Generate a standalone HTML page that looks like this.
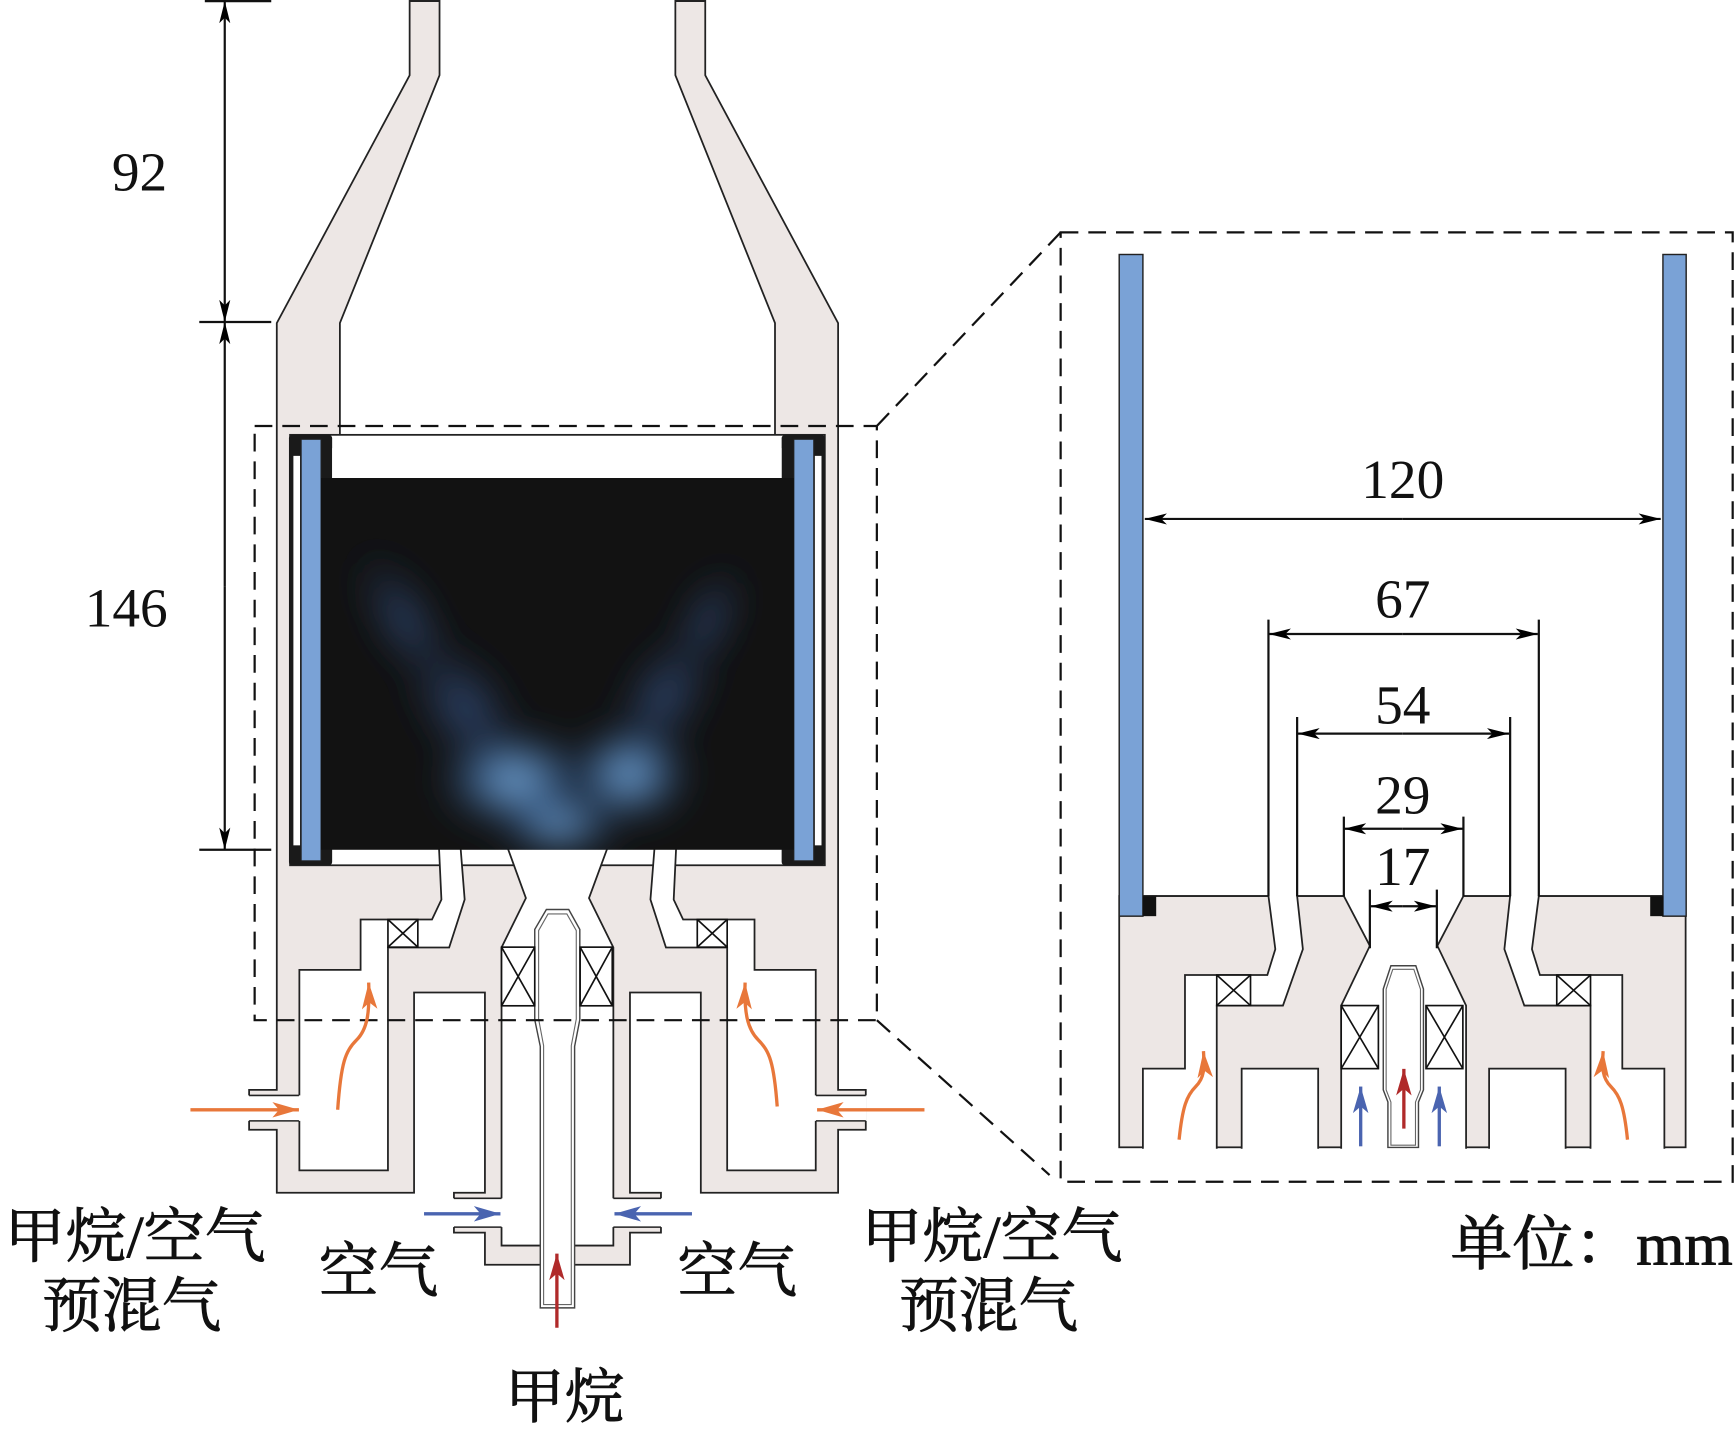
<!DOCTYPE html>
<html><head><meta charset="utf-8"><style>html,body{margin:0;padding:0;background:#fff}svg{display:block}</style></head><body>
<svg width="1736" height="1434" viewBox="0 0 1568 1296" preserveAspectRatio="none" xmlns="http://www.w3.org/2000/svg">
<defs>
<marker id="ak" viewBox="0 0 20 10" refX="20" refY="5" markerWidth="20" markerHeight="10" markerUnits="userSpaceOnUse" orient="auto"><path d="M0,0 L20,5 L0,10 L5,5 z" fill="#000"/></marker>
<marker id="ao" viewBox="0 0 24 14" refX="24" refY="7" markerWidth="24" markerHeight="14" markerUnits="userSpaceOnUse" orient="auto"><path d="M0,0 L24,7 L0,14 L6,7 z" fill="#e8773a"/></marker>
<marker id="ab" viewBox="0 0 24 14" refX="24" refY="7" markerWidth="24" markerHeight="14" markerUnits="userSpaceOnUse" orient="auto"><path d="M0,0 L24,7 L0,14 L6,7 z" fill="#4a64b0"/></marker>
<marker id="ar" viewBox="0 0 24 14" refX="24" refY="7" markerWidth="24" markerHeight="14" markerUnits="userSpaceOnUse" orient="auto"><path d="M0,0 L24,7 L0,14 L6,7 z" fill="#b02a2a"/></marker>
<radialGradient id="g1" cx="0.5" cy="0.5" r="0.5"><stop offset="0" stop-color="#8cc0ee" stop-opacity="1"/><stop offset="0.5" stop-color="#4a80c0" stop-opacity="0.6"/><stop offset="1" stop-color="#14203a" stop-opacity="0"/></radialGradient>
<radialGradient id="g2" cx="0.5" cy="0.5" r="0.5"><stop offset="0" stop-color="#4068a8" stop-opacity="0.75"/><stop offset="1" stop-color="#151a2a" stop-opacity="0"/></radialGradient>
<filter id="bl" x="-50%" y="-50%" width="200%" height="200%"><feGaussianBlur stdDeviation="16"/></filter>
<clipPath id="fc"><rect x="290" y="432" width="427" height="336"/></clipPath>
</defs>
<g stroke="#222" stroke-width="1.6" stroke-linejoin="miter">
<polygon fill="#ede7e5" points="370,0 637,0 637,68 757,292 757,985 782,985 782,1021 757,1021 757,1078 633,1078 633,897 569,897 569,1078 597,1078 597,1114 569,1114 569,1143 438,1143 438,1114 410,1114 410,1078 438,1078 438,897 374,897 374,1078 250,1078 250,1021 225,1021 225,985 250,985 250,292 370,68"/>
<polygon fill="#fff" points="397,-5 610,-5 610,68 700,292 700,400 307,400 307,292 397,68"/>
<rect x="262" y="393" width="483" height="389" fill="#fff"/>
<polygon fill="#fff" points="396.5,766 398.7,813 390.2,831 325.7,831 325.7,876.5 270.4,876.5 270.4,1057.7 350.4,1057.7 350.4,856.3 405.7,856.3 419.7,813 416,766"/>
<polygon fill="#fff" points="610.7,766 608.5,813 617,831 681.5,831 681.5,876.5 736.8,876.5 736.8,1057.7 656.8,1057.7 656.8,856.3 601.5,856.3 587.5,813 591.2,766"/>
<polygon fill="#fff" points="458.4,766 475,811.7 453,856.3 453,1125.7 554,1125.7 554,856.3 532,811.7 548.8,766"/>
<line x1="370" y1="1" x2="397" y2="1"/><line x1="610" y1="1" x2="637" y2="1"/>
</g>
<g fill="#fff"><rect x="224" y="990" width="50" height="23"/><rect x="733" y="990" width="50" height="23"/><rect x="409" y="1083" width="48" height="26"/><rect x="550" y="1083" width="48" height="26"/></g>
<g stroke="#222" stroke-width="1.4"><line x1="225" y1="990" x2="270" y2="990"/><line x1="225" y1="1013" x2="270" y2="1013"/><line x1="737" y1="990" x2="782" y2="990"/><line x1="737" y1="1013" x2="782" y2="1013"/><line x1="410" y1="1083" x2="453" y2="1083"/><line x1="410" y1="1109" x2="453" y2="1109"/><line x1="554" y1="1083" x2="597" y2="1083"/><line x1="554" y1="1109" x2="597" y2="1109"/></g>
<polygon fill="#fff" stroke="#444" stroke-width="1.3" points="493.5,822 513.7,822 523.7,840 523.7,921.6 519,945.7 519,1182 488,1182 488,945.7 483,921.6 483,840"/>
<polygon fill="none" stroke="#666" stroke-width="1" points="495,826 512,826 520.5,841 520.5,921 516,945 516,1179 491,1179 491,945 486.5,921 486.5,841"/>
<g fill="#fff" stroke="#111" stroke-width="1.5">
<rect x="453" y="856" width="30" height="53"/><path d="M453,856 L483,909 M483,856 L453,909"/>
<rect x="524" y="856" width="29" height="53"/><path d="M524,856 L553,909 M553,856 L524,909"/>
<rect x="350.4" y="831" width="27" height="25"/><path d="M350.4,831 L377.4,856 M377.4,831 L350.4,856"/>
<rect x="629.8" y="831" width="27" height="25"/><path d="M629.8,831 L656.8,856 M656.8,831 L629.8,856"/>
</g>
<rect x="261" y="393" width="39" height="389" fill="#1a1a1a" rx="3"/>
<rect x="265" y="412" width="6" height="352" fill="#fff"/>
<rect x="272" y="397" width="18" height="381" fill="#7aa2d6" stroke="#222" stroke-width="1"/>
<rect x="706" y="393" width="39" height="389" fill="#1a1a1a" rx="3"/>
<rect x="736" y="412" width="6" height="352" fill="#fff"/>
<rect x="717" y="397" width="18" height="381" fill="#7aa2d6" stroke="#222" stroke-width="1"/>
<rect x="300" y="405" width="406" height="27" fill="#fff"/>
<rect x="290" y="432" width="427" height="336" fill="#121212"/>
<g clip-path="url(#fc)"><g filter="url(#bl)">
<ellipse cx="365" cy="560" rx="30" ry="80" fill="url(#g2)" transform="rotate(-30 365 560)"/>
<ellipse cx="420" cy="640" rx="45" ry="80" fill="url(#g2)" transform="rotate(-35 420 640)"/>
<ellipse cx="600" cy="630" rx="40" ry="80" fill="url(#g2)" transform="rotate(30 600 630)"/>
<ellipse cx="640" cy="560" rx="25" ry="60" fill="url(#g2)" transform="rotate(25 640 560)"/>
<ellipse cx="465" cy="705" rx="75" ry="48" fill="url(#g1)"/>
<ellipse cx="568" cy="700" rx="60" ry="48" fill="url(#g1)"/>
<ellipse cx="505" cy="745" rx="60" ry="30" fill="url(#g1)"/>
</g></g>
<g fill="none" stroke="#111" stroke-width="2" stroke-dasharray="16,9">
<rect x="230" y="385" width="562" height="537"/>
<line x1="792" y1="385" x2="958" y2="210"/>
<line x1="792" y1="922" x2="948" y2="1062"/>
<rect x="958" y="210" width="607" height="858"/>
</g>
<g stroke="#111" stroke-width="2">
<line x1="185" y1="1" x2="245" y2="1"/><line x1="180" y1="291" x2="245" y2="291"/><line x1="180" y1="768" x2="245" y2="768"/>
<line x1="203" y1="145" x2="203" y2="1" marker-end="url(#ak)"/><line x1="203" y1="145" x2="203" y2="291" marker-end="url(#ak)"/>
<line x1="203" y1="530" x2="203" y2="291" marker-end="url(#ak)"/><line x1="203" y1="530" x2="203" y2="768" marker-end="url(#ak)"/>
</g>
<g fill="none" stroke-width="3">
<line x1="172" y1="1003" x2="270" y2="1003" stroke="#e8773a" marker-end="url(#ao)"/>
<line x1="835" y1="1003" x2="738" y2="1003" stroke="#e8773a" marker-end="url(#ao)"/>
<path d="M305,1003 C308,960 312,950 322,940 C332,930 334,915 333,888" stroke="#e8773a" marker-end="url(#ao)"/>
<path d="M702,1000 C699,960 695,950 685,940 C675,930 672,915 673,888" stroke="#e8773a" marker-end="url(#ao)"/>
<line x1="383" y1="1097" x2="452" y2="1097" stroke="#4a64b0" marker-end="url(#ab)"/>
<line x1="625" y1="1097" x2="555" y2="1097" stroke="#4a64b0" marker-end="url(#ab)"/>
<line x1="503" y1="1200" x2="503" y2="1133" stroke="#b02a2a" marker-end="url(#ar)"/>
</g>
<g stroke="#222" stroke-width="1.6">
<rect x="1010.9" y="809.8" width="511.6" height="227.1" fill="#ede7e5"/>
<polygon fill="#fff" points="1145.7,800 1145.7,809.8 1151.9,857.8 1144.7,881.2 1070.3,881.2 1070.3,965.8 1032.3,965.8 1032.3,1045 1099,1045 1099,908.8 1158.8,908.8 1176.8,857.8 1171.6,809.8 1171.6,800"/>
<polygon fill="#fff" points="1389.9,800 1389.9,809.8 1383.7,857.8 1390.9,881.2 1465.3,881.2 1465.3,965.8 1503.3,965.8 1503.3,1045 1436.6,1045 1436.6,908.8 1376.8,908.8 1358.8,857.8 1364,809.8 1364,800"/>
<rect x="1121.5" y="965.8" width="69.1" height="80" fill="#fff"/>
<rect x="1345" y="965.8" width="69.1" height="80" fill="#fff"/>
<polygon fill="#fff" points="1213.8,800 1213.8,809.8 1237.3,854.8 1211.4,908.8 1211.4,1045 1324.2,1045 1324.2,908.8 1298.3,854.8 1321.8,809.8 1321.8,800"/>
</g>
<rect x="1005" y="1038.2" width="530" height="12" fill="#fff"/>
<rect x="1045" y="780" width="446" height="29" fill="#fff"/>
<g stroke="#222" stroke-width="1.6"><line x1="1032" y1="809.8" x2="1145.7" y2="809.8"/><line x1="1171.6" y1="809.8" x2="1213.8" y2="809.8"/><line x1="1321.8" y1="809.8" x2="1364" y2="809.8"/><line x1="1389.9" y1="809.8" x2="1503" y2="809.8"/></g>
<polygon fill="#fff" stroke="#444" stroke-width="1.3" points="1256.3,872.8 1278.8,872.8 1285.7,893.8 1285.7,985 1281.2,996 1281.2,1037 1253.6,1037 1253.6,996 1249.4,985 1249.4,893.8"/>
<polygon fill="none" stroke="#666" stroke-width="1" points="1258,876 1277,876 1283,894 1283,985 1278.5,996 1278.5,1035 1256.3,1035 1256.3,996 1252,985 1252,894"/>
<g fill="#fff" stroke="#111" stroke-width="1.5">
<rect x="1211.4" y="908.8" width="33.6" height="57"/><path d="M1211.4,908.8 L1245,965.8 M1245,908.8 L1211.4,965.8"/>
<rect x="1288" y="908.8" width="33.3" height="57"/><path d="M1288,908.8 L1321.3,965.8 M1321.3,908.8 L1288,965.8"/>
<rect x="1099" y="881.2" width="30.5" height="27.6"/><path d="M1099,881.2 L1129.5,908.8 M1129.5,881.2 L1099,908.8"/>
<rect x="1406.1" y="881.2" width="30.5" height="27.6"/><path d="M1406.1,881.2 L1436.6,908.8 M1436.6,881.2 L1406.1,908.8"/>
</g>
<rect x="1010.9" y="230" width="21.4" height="598" fill="#7aa2d6" stroke="#222" stroke-width="1.3"/>
<rect x="1502" y="230" width="21" height="598" fill="#7aa2d6" stroke="#222" stroke-width="1.3"/>
<rect x="1032.3" y="810" width="12" height="18" fill="#111"/>
<rect x="1490.5" y="810" width="12" height="18" fill="#111"/>
<g stroke="#111" stroke-width="2">
<line x1="1145.7" y1="560" x2="1145.7" y2="810"/><line x1="1389.9" y1="560" x2="1389.9" y2="810"/>
<line x1="1171.6" y1="648" x2="1171.6" y2="810"/><line x1="1364" y1="648" x2="1364" y2="810"/>
<line x1="1213.8" y1="738" x2="1213.8" y2="810"/><line x1="1321.8" y1="738" x2="1321.8" y2="810"/>
<line x1="1237.3" y1="804" x2="1237.3" y2="857"/><line x1="1297.8" y1="804" x2="1297.8" y2="857"/>
<line x1="1267" y1="469" x2="1034" y2="469" marker-end="url(#ak)"/><line x1="1267" y1="469" x2="1500" y2="469" marker-end="url(#ak)"/>
<line x1="1267" y1="573" x2="1146" y2="573" marker-end="url(#ak)"/><line x1="1267" y1="573" x2="1389" y2="573" marker-end="url(#ak)"/>
<line x1="1267" y1="663" x2="1172" y2="663" marker-end="url(#ak)"/><line x1="1267" y1="663" x2="1363" y2="663" marker-end="url(#ak)"/>
<line x1="1267" y1="749" x2="1214" y2="749" marker-end="url(#ak)"/><line x1="1267" y1="749" x2="1321" y2="749" marker-end="url(#ak)"/>
<line x1="1267" y1="819" x2="1238" y2="819" marker-end="url(#ak)"/><line x1="1267" y1="819" x2="1297" y2="819" marker-end="url(#ak)"/>
</g>
<g fill="none" stroke-width="3">
<path d="M1065,1030 C1068,1000 1072,990 1080,982 C1088,974 1088,965 1087,950" stroke="#e8773a" marker-end="url(#ao)"/>
<path d="M1470,1030 C1467,1000 1463,990 1455,982 C1447,974 1447,965 1448,950" stroke="#e8773a" marker-end="url(#ao)"/>
<line x1="1229" y1="1036" x2="1229" y2="982" stroke="#4a64b0" marker-end="url(#ab)"/>
<line x1="1300" y1="1036" x2="1300" y2="982" stroke="#4a64b0" marker-end="url(#ab)"/>
<line x1="1268" y1="1020" x2="1268" y2="966" stroke="#b02a2a" marker-end="url(#ar)"/>
</g>
<g font-family="'Liberation Serif', serif" font-size="50" fill="#111" text-anchor="middle">
<text x="126" y="172">92</text>
<text x="114" y="566">146</text>
<text x="1267" y="450">120</text>
<text x="1267" y="558">67</text>
<text x="1267" y="654">54</text>
<text x="1267" y="735">29</text>
<text x="1267" y="800">17</text>
</g>
<g font-family="'Liberation Serif', 'Noto Serif CJK SC', serif" font-size="54" fill="#111" stroke="#111" stroke-width="0.8">
<text x="4" y="1136" textLength="236" lengthAdjust="spacingAndGlyphs">甲烷/空气</text>
<text x="38" y="1199">预混气</text>
<text x="288" y="1167">空气</text>
<text x="612" y="1167">空气</text>
<text x="778" y="1136" textLength="236" lengthAdjust="spacingAndGlyphs">甲烷/空气</text>
<text x="812" y="1199">预混气</text>
<text x="456" y="1281">甲烷</text>
<text x="1310" y="1143" textLength="255" lengthAdjust="spacingAndGlyphs">单位：mm</text>
</g>
</svg>
</body></html>
